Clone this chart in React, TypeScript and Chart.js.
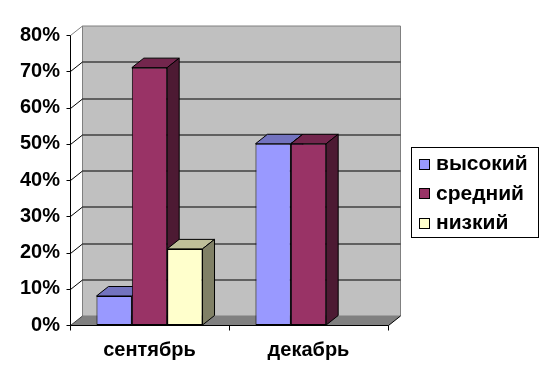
import React, { useEffect, useRef } from "react";
import { Chart, registerables } from "chart.js";

Chart.register(...registerables);

const categories = ["сентябрь", "декабрь"];
const seriesNames = ["высокий", "средний", "низкий"];
const highValues = [8, 50];
const midValues = [71, 50];
const lowValues = [21, 0];
const yMax = 80;
const yStep = 10;

const frontColors = ["#9999FF", "#993366", "#FFFFCC"];
const topColors = ["#7373BF", "#73264D", "#BFBF99"];
const sideColors = ["#4D4D80", "#4D1A33", "#808066"];

const DX = 12;
const DY = 9.5;
const FAMILY = '"Liberation Sans", Arial, sans-serif';
const LEGEND_FONT = `bold 21px ${FAMILY}`;

function poly(ctx: CanvasRenderingContext2D, pts: number[][], fill: string | null, stroke: string | null) {
  ctx.beginPath();
  ctx.moveTo(pts[0][0], pts[0][1]);
  for (let i = 1; i < pts.length; i++) ctx.lineTo(pts[i][0], pts[i][1]);
  ctx.closePath();
  if (fill) {
    ctx.fillStyle = fill;
    ctx.fill();
  }
  if (stroke) {
    ctx.strokeStyle = stroke;
    ctx.lineWidth = 1;
    ctx.stroke();
  }
}

function line(ctx: CanvasRenderingContext2D, x1: number, y1: number, x2: number, y2: number, color: string) {
  ctx.beginPath();
  ctx.moveTo(x1, y1);
  ctx.lineTo(x2, y2);
  ctx.strokeStyle = color;
  ctx.lineWidth = 1;
  ctx.stroke();
}

const r = (v: number) => Math.round(v) + 0.5;

const excel3d = {
  id: "excel3d",
  beforeDatasetsDraw(chart: any) {
    const { ctx, chartArea, scales } = chart;
    const left = r(chartArea.left);
    const right = r(chartArea.right);
    const top = r(chartArea.top);
    const bottom = r(chartArea.bottom);
    const y = scales.y;
    const x = scales.x;
    ctx.save();
    // back wall
    poly(
      ctx,
      [
        [left + DX, top - DY],
        [right + DX, top - DY],
        [right + DX, bottom - DY],
        [left + DX, bottom - DY],
      ],
      "#C0C0C0",
      "#808080"
    );
    line(ctx, left, top, left + DX, top - DY, "#808080");
    // gridlines
    for (let v = yStep; v < yMax; v += yStep) {
      const yy = r(y.getPixelForValue(v));
      line(ctx, left, yy, left + DX, yy - DY, "#000");
      line(ctx, left + DX, yy - DY, right + DX, yy - DY, "#000");
    }
    // floor
    poly(
      ctx,
      [
        [left, bottom],
        [right, bottom],
        [right + DX, bottom - DY],
        [left + DX, bottom - DY],
      ],
      "#808080",
      null
    );
    line(ctx, right, bottom, right + DX, bottom - DY, "#000");
    line(ctx, left, bottom, left + DX, bottom - DY, "#404040");
    // y axis
    line(ctx, left, top, left, bottom, "#000");
    for (let v = 0; v <= yMax; v += yStep) {
      const yy = r(y.getPixelForValue(v));
      line(ctx, left - 4, yy, left, yy, "#000");
    }
    // x axis
    line(ctx, left, bottom, right, bottom, "#000");
    const bounds = [chartArea.left];
    for (let i = 0; i < categories.length - 1; i++) {
      bounds.push((x.getPixelForValue(i) + x.getPixelForValue(i + 1)) / 2);
    }
    bounds.push(chartArea.right);
    bounds.forEach((b) => line(ctx, r(b), bottom, r(b), bottom + 5, "#000"));

    // 3D extrusions, left to right
    const metas = chart.data.datasets.map((_: any, d: number) => chart.getDatasetMeta(d));
    for (let i = 0; i < categories.length; i++) {
      for (let d = 0; d < metas.length; d++) {
        const val = chart.data.datasets[d].data[i];
        if (!val) continue;
        const el = metas[d].data[i];
        const L = el.x - el.width / 2;
        const R = el.x + el.width / 2;
        const T = el.y;
        const B = el.base;
        poly(
          ctx,
          [
            [L, T],
            [R, T],
            [R + DX, T - DY],
            [L + DX, T - DY],
          ],
          topColors[d],
          "#000"
        );
        poly(
          ctx,
          [
            [R, T],
            [R + DX, T - DY],
            [R + DX, B - DY],
            [R, B],
          ],
          sideColors[d],
          "#000"
        );
      }
    }
    ctx.restore();
  },
  afterDraw(chart: any) {
    const { ctx } = chart;
    ctx.save();
    const bx = 411.5;
    const by = 147.5;
    const bw = 127;
    const bh = 90;
    ctx.fillStyle = "#FFFFFF";
    ctx.fillRect(bx, by, bw, bh);
    ctx.strokeStyle = "#000";
    ctx.lineWidth = 1;
    ctx.strokeRect(bx, by, bw, bh);
    ctx.font = LEGEND_FONT;
    ctx.textBaseline = "middle";
    ctx.textAlign = "left";
    chart.data.datasets.forEach((ds: any, d: number) => {
      const cy = 163.5 + d * 29.5;
      const sy = Math.round(cy - 5) + 0.5;
      ctx.fillStyle = frontColors[d];
      ctx.fillRect(419.5, sy, 10, 10);
      ctx.strokeRect(419.5, sy, 10, 10);
      ctx.fillStyle = "#000";
      ctx.fillText(ds.label, 436, cy + 1);
    });
    ctx.restore();
  },
};

export default function App() {
  const ref = useRef<HTMLCanvasElement>(null);
  useEffect(() => {
    if (!ref.current) return;
    const seriesValues = [highValues, midValues, lowValues];
    const chart = new Chart(ref.current, {
      type: "bar",
      data: {
        labels: categories,
        datasets: seriesNames.map((name, d) => ({
          label: name,
          data: seriesValues[d],
          backgroundColor: frontColors[d],
          borderColor: "#000",
          borderWidth: (c: any) => (c.raw === 0 ? 0 : 1),
          borderSkipped: false,
          categoryPercentage: 0.667,
          barPercentage: 1,
        })),
      },
      options: {
        responsive: false,
        animation: false,
        devicePixelRatio: 1,
        layout: { padding: { top: 35, right: 159, bottom: 0, left: 0 } },
        plugins: { legend: { display: false }, tooltip: { enabled: false } },
        scales: {
          x: {
            grid: { display: false, drawTicks: false },
            border: { display: false },
            ticks: {
              padding: 13,
              color: "#000",
              font: { family: FAMILY, size: 20, weight: "bold" },
            },
            afterFit: (s: any) => {
              s.height = 59;
            },
          },
          y: {
            min: 0,
            max: yMax,
            grid: { display: false, drawTicks: false },
            border: { display: false },
            ticks: {
              stepSize: yStep,
              padding: 10,
              color: "#000",
              font: { family: FAMILY, size: 20, weight: "bold" },
              callback: (v: any) => `${v}%`,
            },
            afterFit: (s: any) => {
              s.width = 70;
            },
          },
        },
      },
      plugins: [excel3d],
    } as any);
    return () => chart.destroy();
  }, []);
  return (
    <div style={{ position: "fixed", left: 0, top: 0, width: 547, height: 384, background: "#fff" }}>
      <canvas ref={ref} width={547} height={384} />
    </div>
  );
}
